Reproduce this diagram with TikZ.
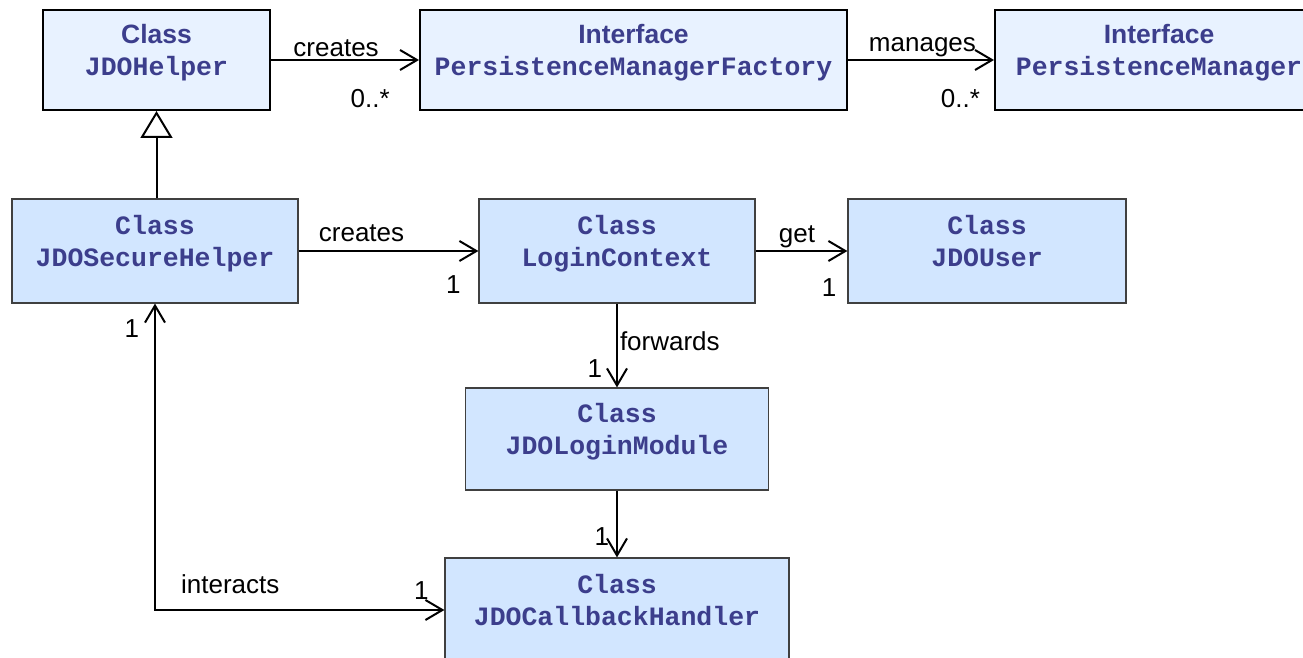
\documentclass[tikz,border=0pt]{standalone}
\usepackage{fontspec}
\setmainfont{Liberation Sans}
\setmonofont{Liberation Mono}
\usepackage{tikz}
\usepackage{xcolor}
\usetikzlibrary{positioning, arrows.meta}
\definecolor{umlText}{RGB}{60,62,140}
\definecolor{topFill}{RGB}{232,242,255}
\definecolor{lowFill}{RGB}{210,230,255}
\definecolor{lowEdge}{RGB}{64,64,64}

\begin{document}
\begin{tikzpicture}[x=1pt, y=-1pt]
                % Define the styles for the class boxes and the links
                \tikzstyle{class box}=[rectangle, inner sep=0pt, align=center, text=umlText, font=\fontsize{26.5}{32}\selectfont\bfseries, text depth=20pt];
                \tikzstyle{top box}=[class box, draw=black, line width=2pt, fill=topFill, minimum height=100pt];
                \tikzstyle{low box}=[class box, draw=lowEdge, line width=1.2pt, fill=lowFill, minimum height=104pt, font=\fontsize{26.5}{32}\selectfont\bfseries\ttfamily];
                \tikzstyle{link}=[line width=2pt, -{Straight Barb[length=17pt, width=20pt]}];
                \tikzstyle{link both}=[line width=2pt, {Straight Barb[length=17pt, width=20pt]}-{Straight Barb[length=17pt, width=20pt]}];
                \tikzstyle{tag}=[font=\fontsize{26}{30}\selectfont, inner sep=2pt];

                % Fix the size of the picture
                \useasboundingbox (0,0) rectangle (1303,658);

                % Draw the top row: helper and the two interfaces
                \node[top box, minimum width=227pt] (helper) at (156.5,60) {Class\\{\ttfamily JDOHelper}};
                \node[top box, minimum width=427pt] (factory) at (633.5,60) {Interface\\{\ttfamily PersistenceManagerFactory}};
                \node[top box, minimum width=328pt] (manager) at (1159,60) {Interface\\{\ttfamily PersistenceManager}};

                % Draw the security classes
                \node[low box, minimum width=286pt] (secure) at (155,251) {Class\\JDOSecureHelper};
                \node[low box, minimum width=276pt] (login) at (617,251) {Class\\LoginContext};
                \node[low box, minimum width=278pt] (user) at (987,251) {Class\\JDOUser};
                \node[low box, minimum width=303pt, minimum height=102pt] (module) at (617,439) {Class\\JDOLoginModule};
                \node[low box, minimum width=344pt] (callback) at (617,610) {Class\\JDOCallbackHandler};

                % Inheritance from the helper
                \draw[line width=2pt, -{Triangle[open, length=27pt, width=32pt]}] (secure.north -| helper.south) -- (helper.south);

                % Associations of the top row
                \draw[link] (helper) -- node[tag, above, pos=0.44] {creates} node[tag, below=26pt, pos=0.67] {0..*} (factory);
                \draw[link] (factory) -- node[tag, above, pos=0.51] {manages} node[tag, below=26pt, pos=0.77] {0..*} (manager);

                % Associations of the security classes
                \draw[link] (secure) -- node[tag, above=6pt, pos=0.35] {creates} node[tag, below=22pt, pos=0.86] {1} (login);
                \draw[link] (login) -- node[tag, above, pos=0.45] {get} node[tag, below=25pt, pos=0.8] {1} (user);
                \draw[link] (login) -- node[tag, right, pos=0.45] {forwards} node[tag, left=12pt, pos=0.77] {1} (module);
                \draw[link] (module) -- node[tag, left=5pt, pos=0.69] {1} (callback);
                \draw[link both] (callback.west) -| node[tag, above=13pt, pos=0.37] {interacts} node[tag, above=8pt, pos=0.04] {1} node[tag, left=13pt, pos=0.96] {1} (secure.south);
            \end{tikzpicture}
\end{document}
